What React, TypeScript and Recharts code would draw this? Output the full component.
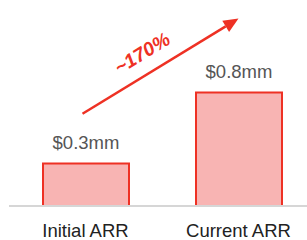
import React from 'react';
import { BarChart, Bar, XAxis, YAxis, LabelList, ReferenceLine } from 'recharts';

const categories = ['Initial ARR', 'Current ARR'];
const arrValues = [0.3, 0.8];
const valueLabels = ['$0.3mm', '$0.8mm'];
const growthLabel = '~170%';
// growth arrow ends, in data units (category, value)
const arrowFrom = { x: 'Initial ARR', y: 0.65 };
const arrowTo = { x: 'Current ARR', y: 1.32 };

const data = categories.map((name, i) => ({
  name,
  value: arrValues[i],
  label: valueLabels[i],
}));

const RED = '#ee3124';
const FONT = '"Liberation Sans", Arial, sans-serif';

// line + filled head + rotated label, drawn from the scaled segment ends
const GrowthArrow = (props: any) => {
  const { x1, y1, x2, y2 } = props;
  const sx = x1 - 3; // arrow tail sits a touch left of the bar centre
  const dx = x2 - sx;
  const dy = y2 - y1;
  const len = Math.sqrt(dx * dx + dy * dy);
  const ux = dx / len;
  const uy = dy / len;
  const headLen = 15;
  const headHalf = 6.5;
  const bx = x2 - ux * headLen;
  const by = y2 - uy * headLen;
  const head = [
    `${x2},${y2}`,
    `${bx - uy * headHalf},${by + ux * headHalf}`,
    `${bx + uy * headHalf},${by - ux * headHalf}`,
  ].join(' ');
  const angle = (Math.atan2(dy, dx) * 180) / Math.PI;
  const mx = (sx + x2) / 2;
  const my = (y1 + y2) / 2;
  return (
    <g>
      <line x1={sx} y1={y1} x2={bx} y2={by} stroke={RED} strokeWidth={2.5} />
      <polygon points={head} fill={RED} />
      <text
        transform={`translate(${mx},${my}) rotate(${angle})`}
        x={-9}
        y={-14}
        textAnchor="middle"
        fill={RED}
        fontSize={19.5}
        fontWeight="bold"
        fontStyle="italic"
        fontFamily={FONT}
      >
        {growthLabel}
      </text>
    </g>
  );
};

export default function App() {
  if (typeof document !== 'undefined') document.body.style.margin = '0';

  return (
    <div style={{ width: 307, height: 240, overflow: 'hidden', fontFamily: FONT }}>
      <BarChart
        width={315}
        height={240}
        data={data}
        margin={{ top: 64, right: 0, bottom: 0, left: 9 }}
      >
        <YAxis hide domain={[0, 1]} />
        <Bar
          dataKey="value"
          barSize={86}
          fill="#f8b4b3"
          stroke={RED}
          strokeWidth={2}
          isAnimationActive={false}
        >
          <LabelList
            dataKey="label"
            position="top"
            offset={14}
            fill="#555"
            fontSize={18.5}
            fontFamily={FONT}
          />
        </Bar>
        <XAxis
          dataKey="name"
          interval={0}
          height={34}
          tickLine={false}
          tickMargin={12}
          axisLine={{ stroke: '#d6d6d6', strokeWidth: 2 }}
          tick={{ fill: '#222', fontSize: 18.5, fontFamily: FONT }}
        />
        <ReferenceLine
          segment={[arrowFrom, arrowTo]}
          ifOverflow="visible"
          shape={GrowthArrow}
        />
      </BarChart>
    </div>
  );
}
